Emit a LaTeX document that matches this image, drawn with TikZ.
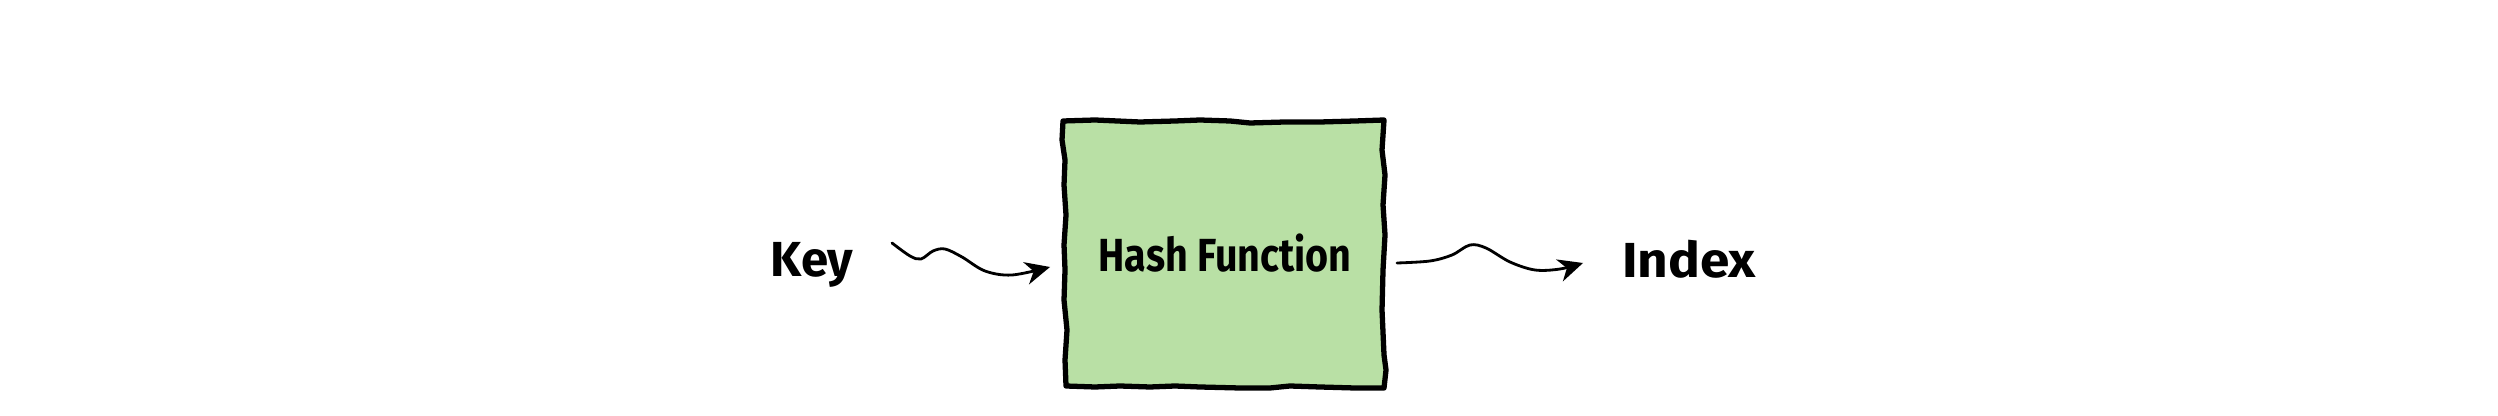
\documentclass[tikz,border=0pt]{standalone}
\usepackage{fontspec}
\setmainfont{Fira Sans}
\usetikzlibrary{arrows.meta,calc}
\definecolor{boxfill}{HTML}{B9E0A5}
\tikzset{
  lbl/.style={font=\fontsize{14}{16}\selectfont\bfseries, anchor=base, inner sep=0pt},
  hflbl/.style={font=\fontsize{13.2}{15}\selectfont\bfseries, anchor=base, inner sep=0pt},
  sketch/.style={draw=black, line width=1.5pt, fill=boxfill, line join=round},
  conn/.style={draw=black, line width=0.8pt, line cap=round,
    -{Stealth[length=7pt, width=6.5pt, inset=2.2pt]}},
}
\begin{document}
\begin{tikzpicture}[x=0.01cm, y=-0.01cm]
\useasboundingbox (0,0) rectangle (2498,416);
% box (node for naming) with sketchy outline
\node[minimum width=3.23cm, minimum height=2.70cm, inner sep=0pt] (hf) at (1223.5,254) {};
\path[sketch]
  (1063,121) -- (1095,120) -- (1140,122) -- (1175,121) -- (1200,120) -- (1230,121)
  -- (1250,123) -- (1285,122) -- (1320,122) -- (1355,121) -- (1384,120)
  -- (1382,150) -- (1385,175) -- (1383,205) -- (1385,235) -- (1383,270)
  -- (1382,310) -- (1384,355) -- (1386,370) -- (1384,388)
  -- (1355,388) -- (1320,387) -- (1290,386) -- (1270,388) -- (1240,388)
  -- (1200,387) -- (1175,386) -- (1150,387) -- (1120,386) -- (1095,387) -- (1066,386)
  -- (1065,360) -- (1067,330) -- (1064,300) -- (1065,270) -- (1064,245)
  -- (1066,215) -- (1064,185) -- (1065,160) -- (1062,140) -- cycle;
\node[hflbl] (hft) at (1225,272) {\scalebox{0.85}[1]{Hash Function}};
\node[lbl] (key) at (812,277) {Key};
\node[lbl] (idx) at (1689,278) {\scalebox{1.08}[1]{Index}};
\coordinate (k1) at (892,243);
\coordinate (k2) at (1050,267);
\coordinate (i1) at (1397,263);
\coordinate (i2) at (1583,263);
\draw[conn] plot[smooth, tension=0.55] coordinates
  {(k1) (910,256) (921,259) (933,251) (945,249) (962,257) (985,271) (1012,275) (k2)};
\draw[conn] plot[smooth, tension=0.55] coordinates
  {(i1) (1430,261) (1452,255) (1470,245) (1486,248) (1510,262) (1535,270) (1560,269) (i2)};
\end{tikzpicture}
\end{document}
